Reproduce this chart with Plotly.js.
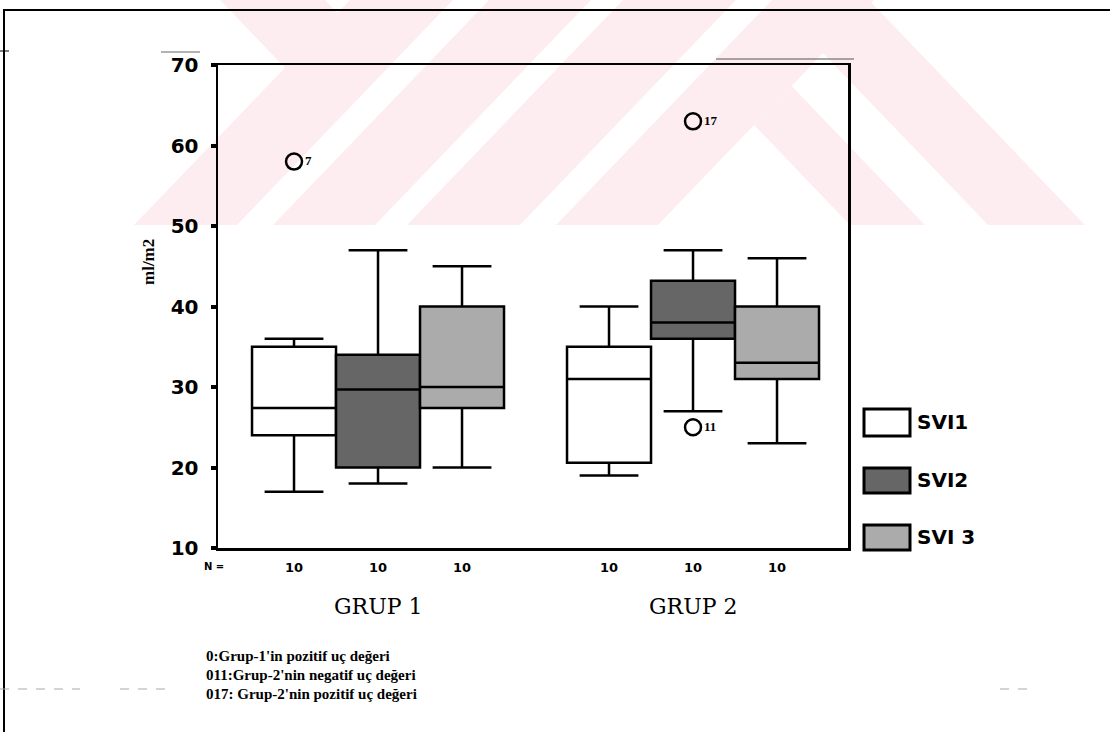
<!DOCTYPE html>
<html><head><meta charset="utf-8">
<script src="https://cdn.plot.ly/plotly-3.0.1.min.js"></script>
<style>html,body{margin:0;padding:0;background:#fff}#chart{width:1110px;height:732px}</style>
</head><body><div id="chart"></div>
<script>
// ---- data ----
const groups = ['GRUP 1', 'GRUP 2'];
const seriesNames = ['SVI1', 'SVI2', 'SVI 3'];
const nCounts = [[10, 10], [10, 10], [10, 10]];          // per series, per group
const lowerWhisker = [[17, 19], [18, 27], [20, 23]];
const q1Values = [[24, 20.6], [20, 36], [27.4, 31]];
const medianValues = [[27.4, 31], [29.7, 38], [30, 33]];
const q3Values = [[35, 35], [34, 43.2], [40, 40]];
const upperWhisker = [[36, 40], [47, 47], [45, 46]];
const outlierGroup = [0, 1, 1];
const outlierSeries = [0, 1, 1];
const outlierValues = [58, 63, 25];
const outlierLabels = ['7', '17', '11'];
const yTicks = [10, 20, 30, 40, 50, 60, 70];
const footPrefixes = ['0:', '011:', '017:'];
const footTexts = ["Grup-1'in pozitif uç değeri", "Grup-2'nin negatif uç değeri", " Grup-2'nin pozitif uç değeri"];

// ---- style ----
const fills = ['#ffffff', '#666666', '#ababab'];
const W = 1110, H = 732, L = 218, R = 262, T = 65, B = 184;
const pw = W - L - R, ph = H - T - B;
const px = x => (x - L) / pw;
const py = y => (H - B - y) / ph;
const boxW = 0.8 / seriesNames.length;
const pos = (g, s) => g + (s - (seriesNames.length - 1) / 2) * boxW;

const traces = [];
seriesNames.forEach((name, s) => {
  traces.push({
    type: 'box', name: name,
    x: groups.map((_, g) => pos(g, s)),
    q1: q1Values[s], median: medianValues[s], q3: q3Values[s],
    lowerfence: lowerWhisker[s], upperfence: upperWhisker[s],
    width: boxW, whiskerwidth: 0.7, boxpoints: false,
    fillcolor: fills[s], line: {color: '#000', width: 2.5},
    showlegend: false, hoverinfo: 'skip'
  });
});
traces.push({
  type: 'scatter', mode: 'markers+text',
  x: outlierValues.map((_, i) => pos(outlierGroup[i], outlierSeries[i])),
  y: outlierValues, text: outlierLabels, textposition: 'middle right',
  textfont: {family: 'Liberation Serif', size: 13, color: '#000', weight: 'bold'},
  marker: {symbol: 'circle-open', size: 16, color: '#000', line: {width: 2.5, color: '#000'}},
  showlegend: false, hoverinfo: 'skip', cliponaxis: false
});

const tickPos = [], tickTxt = [];
groups.forEach((_, g) => seriesNames.forEach((_, s) => { tickPos.push(pos(g, s)); tickTxt.push(String(nCounts[s][g])); }));

const annotations = [
  {text: '<b>ml/m2</b>', xref: 'paper', yref: 'paper', x: px(148), y: py(262), textangle: -90,
   xanchor: 'center', yanchor: 'middle',
   showarrow: false, font: {family: 'Liberation Serif', size: 17, color: '#000'}},
  {text: '<b>N =</b>', xref: 'paper', yref: 'paper', x: px(202), y: py(566), xanchor: 'left', yanchor: 'middle',
   showarrow: false, font: {family: 'DejaVu Sans', size: 10, color: '#000'}}
];
groups.forEach((gname, g) => annotations.push({
  text: gname, xref: 'x', yref: 'paper', x: g, y: py(606), xanchor: 'center', yanchor: 'middle', showarrow: false,
  font: {family: 'DejaVu Serif', size: 22, color: '#000'}
}));
footPrefixes.forEach((p, i) => annotations.push({
  text: '<b>' + p + footTexts[i] + '</b>', xref: 'paper', yref: 'paper', x: px(204), xanchor: 'left',
  y: py(656 + 19 * i), yanchor: 'middle', showarrow: false,
  font: {family: 'Liberation Serif', size: 15, color: '#000'}
}));
const legendY = [422, 480, 537];
seriesNames.forEach((name, s) => annotations.push({
  text: name, xref: 'paper', yref: 'paper', x: px(915), xanchor: 'left', y: py(legendY[s]), yanchor: 'middle',
  showarrow: false, font: {family: 'DejaVu Sans', size: 20, color: '#000', weight: 'bold'}
}));

const shapes = [];
// watermark (pale pink chevrons from the scan)
const pink = '#fdedf0';
const wm = [
  [[134,225],[237,225],[453,0],[350,0]],
  [[273,225],[375,225],[591,0],[489,0]],
  [[407,225],[520,225],[736,0],[623,0]],
  [[556,225],[658,225],[874,0],[772,0]],
  [[220,0],[325,0],[390,67.7],[285,67.7]],
  [[791.6,86],[925,225],[850,225],[754,125]],
  [[772,0],[869,0],[1085,225],[988,225]]
];
wm.forEach(poly => shapes.push({
  type: 'path', xref: 'paper', yref: 'paper', layer: 'below',
  path: 'M' + poly.map(p => px(p[0]) + ',' + py(p[1])).join(' L') + ' Z',
  fillcolor: pink, line: {width: 0}
}));
// legend swatches
const legendBoxes = [[409, 436], [468, 493], [525, 550]];
seriesNames.forEach((_, s) => shapes.push({
  type: 'rect', xref: 'paper', yref: 'paper', x0: px(864), x1: px(910),
  y0: py(legendBoxes[s][1]), y1: py(legendBoxes[s][0]),
  fillcolor: fills[s], line: {color: '#000', width: 3}
}));
// page frame lines and scan marks
const line = (x0, y0, x1, y1, color, width, dash) => shapes.push({
  type: 'line', xref: 'paper', yref: 'paper', x0: px(x0), y0: py(y0), x1: px(x1), y1: py(y1),
  line: {color: color, width: width, dash: dash || 'solid'}
});
line(3, 10, 1110, 10, '#000', 2);
line(4, 10, 4, 732, '#000', 2);
line(0, 51, 9, 51, '#000', 1);
line(161, 52, 200, 52, '#666', 1.2);
line(716, 59, 854, 59, '#555', 1.2);
line(0, 689, 80, 689, '#aaa', 1, 'dash');
line(120, 689, 165, 689, '#aaa', 1, 'dash');
line(1000, 689, 1035, 689, '#aaa', 1, 'dash');

const layout = {
  width: W, height: H,
  margin: {l: L, r: R, t: T, b: B, pad: 0},
  paper_bgcolor: '#fff', plot_bgcolor: 'rgba(0,0,0,0)',
  showlegend: false, boxmode: 'overlay',
  xaxis: {
    type: 'linear', range: [-0.508, 1.492], tickvals: tickPos, ticktext: tickTxt,
    ticks: '', showline: true, mirror: true, linecolor: '#000', linewidth: 2.5,
    showgrid: false, zeroline: false, ticklabelstandoff: 6,
    tickfont: {family: 'DejaVu Sans', size: 13, color: '#000', weight: 'bold'}
  },
  yaxis: {
    range: [10, 70], tickvals: yTicks, ticktext: yTicks.map(String),
    ticks: 'outside', ticklen: 5, tickwidth: 4, tickcolor: '#000',
    showline: true, mirror: true, linecolor: '#000', linewidth: 2.5,
    showgrid: false, zeroline: false, ticklabelstandoff: 8,
    tickfont: {family: 'DejaVu Sans', size: 20, color: '#000', weight: 'bold'}
  },
  annotations: annotations, shapes: shapes
};
Plotly.newPlot('chart', traces, layout, {staticPlot: true, displayModeBar: false});
</script></body></html>
